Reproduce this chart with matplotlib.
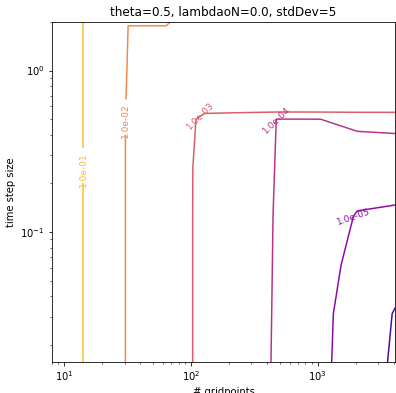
import numpy as np
import matplotlib
matplotlib.use("Agg")
import matplotlib.pyplot as plt
from matplotlib.colors import LogNorm

# grid of the study
gridpoints = [8, 16, 32, 64, 128, 256, 512, 1024, 2048, 4096]
time_steps = [2, 1, 0.5, 0.25, 0.125, 0.0625, 0.03125, 0.015625]

# error per time step (rows) and number of gridpoints (columns)
err_dt_2 = [0.303, 0.038, 1.015e-2, 1.0178e-2, 7.74e-3, 8.7e-3, 8.7e-3, 8.7e-3, 8.7e-3, 8.7e-3]
err_dt_1 = [0.303, 0.038, 8.74e-3, 8.5e-3, 6.85e-3, 8.5e-3, 8.5e-3, 8.5e-3, 8.5e-3, 8.5e-3]
err_dt_1_2 = [0.303, 0.038, 7.03e-3, 2.37e-3, 4.5e-4, 1.79e-4, 8.5e-5, 9.9e-5, 1.325e-4, 1.393e-4]
err_dt_1_4 = [0.303, 0.038, 7.03e-3, 1.9e-3, 4.45e-4, 2.0e-4, 7.26e-5, 4.0e-5, 3.0e-5, 3.3e-5]
err_dt_1_8 = [0.303, 0.038, 7.03e-3, 1.9e-3, 4.34e-4, 2.0e-4, 6.38e-5, 2.15e-5, 8.21e-6, 5.0e-6]
err_dt_1_16 = [0.303, 0.038, 7.03e-3, 1.9e-3, 4.34e-4, 2.0e-4, 6.0e-5, 1.53e-5, 4.5e-6, 2.93e-6]
err_dt_1_32 = [0.303, 0.038, 7.03e-3, 1.9e-3, 4.34e-4, 2.0e-4, 5.57e-5, 1.314e-5, 2.53e-6, 8.0e-7]
err_dt_1_64 = [0.303, 0.038, 7.03e-3, 1.9e-3, 4.34e-4, 2.0e-4, 5.1e-5, 1.26e-5, 2.5e-6, 4.5e-7]

levels = [1e-6, 1e-5, 1e-4, 1e-3, 1e-2, 1e-1]

err = np.array([err_dt_2, err_dt_1, err_dt_1_2, err_dt_1_4,
                err_dt_1_8, err_dt_1_16, err_dt_1_32, err_dt_1_64])

fig = plt.figure(figsize=(396 / 72, 393 / 72), dpi=72)
ax = fig.add_axes([0.1306, 0.0781, 0.868, 0.866])
ax.set_xscale('log')
ax.set_yscale('log')

cs = ax.contour(gridpoints, time_steps, err, levels=levels,
                cmap='plasma', norm=LogNorm(vmin=1e-7, vmax=1e0))
ax.set_xlim(min(gridpoints), max(gridpoints))
ax.set_ylim(min(time_steps), max(time_steps))

# labels on the straight parts cut the line, the ones in the corners sit on top
straight_pos = [(30.5, 0.49), (14.1, 0.245)]
corner_pos = [(1841, 0.124), (462, 0.49), (118.4, 0.521)]
label_rot = {'1.0e-05': 19, '1.0e-04': 44, '1.0e-03': 45, '1.0e-02': 90, '1.0e-01': 90}

texts = list(ax.clabel(cs, fmt='%1.1e', inline=True, inline_spacing=0,
                       fontsize=9, manual=straight_pos))
texts += list(ax.clabel(cs, fmt='%1.1e', inline=False, fontsize=9,
                        manual=corner_pos))
for t in texts:
    t.set_rotation(label_rot.get(t.get_text(), t.get_rotation()))

ax.set_title('theta=0.5, lambdaoN=0.0, stdDev=5')
ax.set_xlabel('# gridpoints')
ax.set_ylabel('time step size')

fig.savefig('out.png', dpi=72)
